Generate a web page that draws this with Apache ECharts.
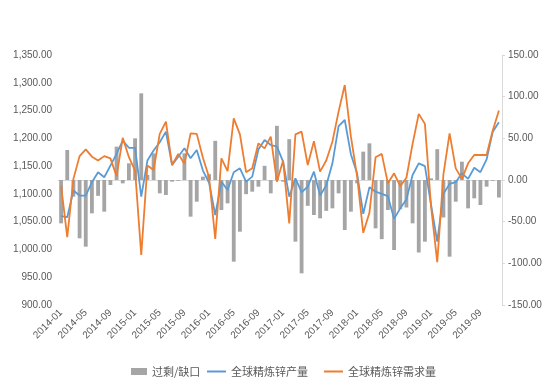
<!DOCTYPE html>
<html>
<head>
<meta charset="utf-8">
<script src="https://cdn.jsdelivr.net/npm/echarts@6/dist/echarts.min.js"></script>
<style>
html,body{margin:0;padding:0;background:#fff;}
#c{width:550px;height:387px;}
</style>
</head>
<body>
<div id="c"></div>
<script>
// categories 2014-01 .. 2019-12
const categories = [];
for (let y = 2014; y <= 2019; y++) {
  for (let m = 1; m <= 12; m++) categories.push(y + '-' + (m < 10 ? '0' + m : m));
}

const surplus = [-52,36,-20,-70,-80,-40,-19,-38,-6,40,-4,20,
  50,104,6,32,-16,-18,-2,-1,32,-44,-26,4,
  7,47,-36,-28,-98,-62,-17,-14,-8,17,-16,65,
  -2,49,-74,-112,-31,-42,-46,-37,-34,-16,-60,-38,
  -4,34,44,-58,-71,-36,-84,-35,-33,-52,-87,-74,
  2,37,-45,-92,-26,22,-34,-22,-30,-8,-1,-21];

const production = [1060,1058,1106,1097,1097,1121,1139,1130,1151,1172,1196,1183,
  1183,1095,1160,1178,1193,1212,1152,1167,1182,1164,1179,1142,
  1120,1062,1122,1107,1139,1146,1122,1131,1180,1197,1188,1185,
  1158,1095,1128,1103,1113,1140,1097,1115,1155,1222,1233,1171,
  1137,1064,1112,1104,1100,1096,1055,1074,1090,1134,1155,1150,
  1080,1014,1100,1118,1121,1137,1127,1147,1139,1162,1212,1229];

const demand = [1115,1022,1127,1168,1180,1167,1160,1168,1164,1132,1201,1166,
  1142,990,1151,1143,1208,1230,1152,1172,1154,1209,1208,1165,
  1130,1019,1164,1141,1236,1207,1139,1146,1191,1182,1203,1122,
  1160,1047,1207,1212,1152,1195,1140,1160,1194,1248,1296,1203,
  1132,1030,1066,1166,1172,1119,1137,1114,1129,1190,1244,1226,
  1077,977,1135,1209,1146,1127,1155,1170,1170,1170,1214,1250];

const seriesNames = ['过剩/缺口', '全球精炼锌产量', '全球精炼锌需求量'];

const fmt = v => v.toLocaleString('en-US', {minimumFractionDigits: 2, maximumFractionDigits: 2});
const txt = '#595959';
const font = 'Liberation Sans, Noto Sans CJK SC, sans-serif';
const legendText = {color: txt, fontSize: 11, fontFamily: 'Noto Sans CJK SC, sans-serif'};

const chart = echarts.init(document.getElementById('c'), null, {renderer: 'canvas'});
chart.setOption({
  animation: false,
  backgroundColor: '#fff',
  textStyle: {fontFamily: font},
  grid: {left: 58, right: 48, top: 55, bottom: 82, containLabel: false},
  legend: [
    {
      top: 361, left: 126,
      itemWidth: 16, itemHeight: 7,
      textStyle: legendText,
      data: [{name: seriesNames[0], icon: 'rect'}]
    },
    {
      top: 361, left: 202,
      itemGap: 16, itemWidth: 19, itemHeight: 2,
      textStyle: legendText,
      data: [{name: seriesNames[1], icon: 'rect'}, {name: seriesNames[2], icon: 'rect'}]
    }
  ],
  xAxis: {
    type: 'category',
    data: categories,
    boundaryGap: true,
    axisLine: {lineStyle: {color: '#d9d9d9', width: 1}},
    axisTick: {show: false},
    axisLabel: {interval: 3, rotate: 45, color: txt, fontSize: 10, margin: 6}
  },
  yAxis: [
    {
      type: 'value', min: 900, max: 1350, interval: 50, position: 'left',
      axisLine: {show: false}, axisTick: {show: false}, splitLine: {show: false},
      axisLabel: {color: txt, fontSize: 10, margin: 6, formatter: v => fmt(v)}
    },
    {
      type: 'value', min: -150, max: 150, interval: 50, position: 'right',
      axisLine: {show: true, lineStyle: {color: '#d9d9d9'}},
      axisTick: {show: true, length: 3, lineStyle: {color: '#d9d9d9'}},
      splitLine: {show: false},
      axisLabel: {color: txt, fontSize: 10, margin: 6, formatter: v => fmt(v)}
    }
  ],
  series: [
    {
      name: seriesNames[0], type: 'bar', yAxisIndex: 1, data: surplus,
      barWidth: '62%', itemStyle: {color: '#a5a5a5'}
    },
    {
      name: seriesNames[1], type: 'line', yAxisIndex: 0, data: production,
      symbol: 'none', lineStyle: {color: '#5b9bd5', width: 1.8}, itemStyle: {color: '#5b9bd5'}
    },
    {
      name: seriesNames[2], type: 'line', yAxisIndex: 0, data: demand,
      symbol: 'none', lineStyle: {color: '#ed7d31', width: 1.8}, itemStyle: {color: '#ed7d31'}
    }
  ]
});
</script>
</body>
</html>
